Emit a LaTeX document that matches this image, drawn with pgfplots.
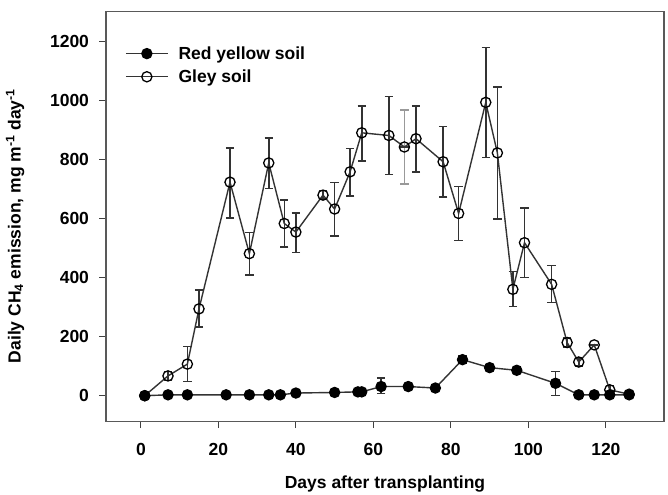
\documentclass[border=0pt]{standalone}
\usepackage{pgfplots}
\usepackage{pgfplotstable}
\pgfplotsset{compat=1.18}
\usepackage{fontspec}
\setmainfont{Liberation Sans}
\newcommand\lblfont{\bfseries\fontsize{17.5bp}{20bp}\selectfont}

% Red yellow soil: day, mean, error plus, error minus
\pgfplotstableread{
d v ep em
1 0 0 0
7 3 0 0
12 3 0 0
22 3 0 0
28 3 0 0
33 3 0 0
36 3 0 0
40 9 0 0
50 11 0 0
56 13 0 0
57 13 0 0
62 31 29 24
69 31 0 0
76 26 0 0
83 122 12 12
90 95 10 10
97 86 0 0
107 42 40 41
113 3 0 0
117 3 0 0
121 3 0 0
126 3 0 0
}\redyellow

% Gley soil: day, mean, error plus, error minus
\pgfplotstableread{
d v ep em
1 0 0 0
7 67 15 15
12 107 59 59
15 294 64 62
23 723 116 122
28 481 71 72
33 788 85 86
37 583 79 79
40 554 65 69
47 679 15 13
50 632 90 91
54 758 79 82
57 890 90 95
64 881 132 132
68 842 0 0
71 870 110 112
78 792 120 119
82 617 92 92
89 993 185 187
92 822 223 224
96 360 60 58
99 518 118 118
106 377 63 62
110 180 15 15
113 114 14 14
117 172 0 0
121 20 14 14
126 5 0 0
}\gley

\pgfplotsset{
  errbars/.style={
    error bars/y dir=both, error bars/y explicit,
    error bars/error bar style={line width=1.5bp, #1},
    error bars/error mark options={rotate=90, mark size=4.2bp, line width=1.5bp, #1},
  },
}

\begin{document}
\begin{tikzpicture}
\begin{axis}[
  scale only axis, width=558bp, height=410bp,
  xmin=-9, xmax=135, ymin=-88, ymax=1300,
  xtick={0,20,...,120}, ytick={0,200,...,1200},
  axis line style={black!65, line width=1.5bp},
  tick style={black!75, line width=1.1bp},
  tick align=outside, tick pos=left, major tick length=6.5bp,
  /pgf/number format/assume math mode=true,
  /pgf/number format/1000 sep={},
  ticklabel style={font=\lblfont},
  xticklabel style={yshift=-12bp},
  yticklabel style={xshift=-7bp},
  every axis x label/.style={at={(axis description cs:0.5,-0.152)}, anchor=center,
    font=\lblfont},
  every axis y label/.style={at={(axis description cs:-0.163,0.477)}, rotate=90, anchor=center,
    font=\lblfont},
  xlabel={Days after transplanting},
  ylabel={Daily CH\textsubscript{4} emission, mg m\textsuperscript{-1} day\textsuperscript{-1}},
  legend style={draw=none, fill=none, at={(axis description cs:0.034,0.918)}, anchor=north west,
    font=\lblfont, inner sep=0pt, row sep=7bp,
    nodes={inner sep=1bp}},
  legend cell align=left,
  /tikz/every odd column/.append style={column sep=9bp},
  legend image code/.code={
    \draw[black!80, line width=1.4bp] (0bp,0bp) -- (42bp,0bp);
    \draw[#1] plot coordinates {(21bp,0bp)};
  },
]
% Filled markers: red yellow soil
\addplot[black!80, line width=1.4bp, mark=*, mark size=5.1bp,
  mark options={fill=black, draw=black, solid, line width=1.2bp}, errbars=black!80]
  table[x=d, y=v, y error plus=ep, y error minus=em] {\redyellow};
\addlegendentry{Red yellow soil}
% Lighter error bar on day 68 (gley soil)
\addplot[draw=none, forget plot, errbars=black!40]
  coordinates {(68,842) +- (0,126)};
% Open markers: gley soil
\addplot[black!80, line width=1.4bp, mark=o, mark size=5.1bp,
  mark options={fill=white, draw=black, solid, line width=1.3bp}, errbars=black!80]
  table[x=d, y=v, y error plus=ep, y error minus=em] {\gley};
\addlegendentry{Gley soil}
\end{axis}
\pgfresetboundingbox
\useasboundingbox (-106bp,-73.3bp) rectangle (562bp,421.7bp);
\end{tikzpicture}
\end{document}
